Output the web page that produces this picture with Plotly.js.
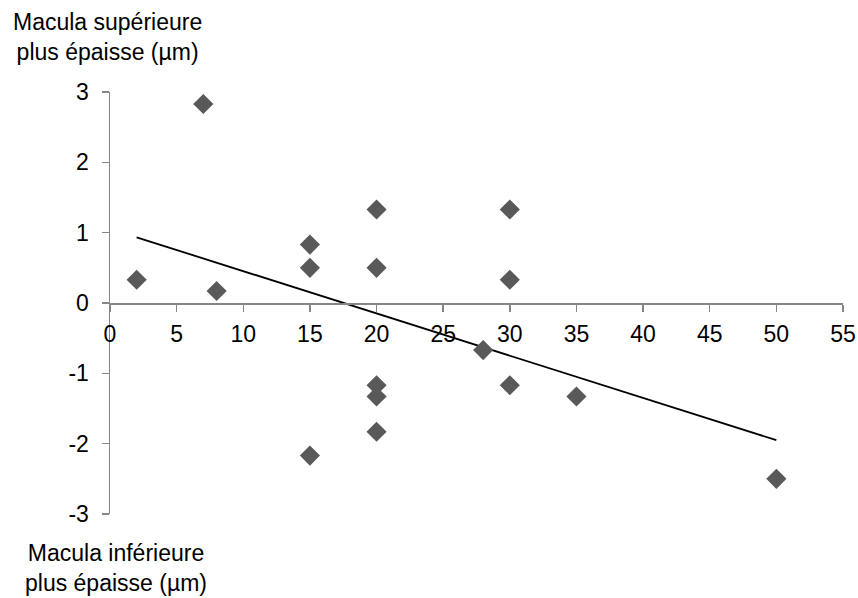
<!DOCTYPE html>
<html>
<head>
<meta charset="utf-8">
<script src="https://cdn.plot.ly/plotly-3.0.1.min.js"></script>
<style>html,body{margin:0;padding:0;background:#fff;}#chart{width:858px;height:598px;}</style>
</head>
<body>
<div id="chart"></div>
<script>
// Data
const xValues = [2, 7, 8, 15, 15, 15, 20, 20, 20, 20, 20, 28, 30, 30, 30, 35, 50];
const yValues = [0.33, 2.83, 0.17, 0.83, 0.5, -2.17, 1.33, 0.5, -1.17, -1.33, -1.83, -0.67, 1.33, 0.33, -1.17, -1.33, -2.5];
const xTicks = [0, 5, 10, 15, 20, 25, 30, 35, 40, 45, 50, 55];
const yTicks = [-3, -2, -1, 0, 1, 2, 3];
const topTitle = "Macula supérieure<br>plus épaisse (µm)";
const bottomTitle = "Macula inférieure<br>plus épaisse (µm)";

// Linear least-squares trendline computed from the data
const n = xValues.length;
const mx = xValues.reduce((a, b) => a + b, 0) / n;
const my = yValues.reduce((a, b) => a + b, 0) / n;
let sxy = 0, sxx = 0;
for (let i = 0; i < n; i++) { sxy += (xValues[i] - mx) * (yValues[i] - my); sxx += (xValues[i] - mx) ** 2; }
const slope = sxy / sxx;
const intercept = my - slope * mx;
const xMin = Math.min(...xValues), xMax = Math.max(...xValues);
const trendX = [xMin, xMax];
const trendY = trendX.map(x => intercept + slope * x);

const font = "Liberation Sans, Arial, sans-serif";
const fs = 23;

const traces = [
  { x: trendX, y: trendY, mode: 'lines', type: 'scatter', line: { color: '#000000', width: 1.8 }, hoverinfo: 'skip' },
  { x: xValues, y: yValues, mode: 'markers', type: 'scatter',
    marker: { symbol: 'diamond', size: 15.5, color: '#595959', line: { width: 0 } } }
];

const axisColor = '#868686';
const layout = {
  width: 858, height: 598,
  margin: { l: 110, r: 15, t: 92, b: 84, pad: 0 },
  paper_bgcolor: '#ffffff', plot_bgcolor: '#ffffff',
  showlegend: false,
  font: { family: font, size: fs, color: '#000000' },
  xaxis: {
    range: [0, 55], tickvals: xTicks, ticktext: xTicks.map(String),
    anchor: 'free', position: 0.5,
    showline: true, linecolor: axisColor, linewidth: 1.5,
    ticks: 'outside', ticklen: 7, tickwidth: 1.5, tickcolor: axisColor,
    showgrid: false, zeroline: false, ticklabelstandoff: 3,
    tickfont: { family: font, size: fs, color: '#000000' }
  },
  yaxis: {
    range: [-3, 3], tickvals: yTicks, ticktext: yTicks.map(String),
    showline: true, linecolor: axisColor, linewidth: 1.5,
    ticks: 'outside', ticklen: 7, tickwidth: 1.5, tickcolor: axisColor,
    showgrid: false, zeroline: false, ticklabelstandoff: 8,
    tickfont: { family: font, size: fs, color: '#000000' }
  },
  annotations: [
    { text: topTitle, xref: 'paper', yref: 'paper', x: 0, y: 1.1244, xshift: -3, yshift: 3,
      xanchor: 'center', yanchor: 'middle', showarrow: false, align: 'center',
      font: { family: font, size: fs, color: '#000000' } },
    { text: bottomTitle, xref: 'paper', yref: 'paper', x: 0, y: -0.1268, xshift: 6,
      xanchor: 'center', yanchor: 'middle', showarrow: false, align: 'center',
      font: { family: font, size: fs, color: '#000000' } }
  ]
};

Plotly.newPlot('chart', traces, layout, { displayModeBar: false, staticPlot: true });
</script>
</body>
</html>
